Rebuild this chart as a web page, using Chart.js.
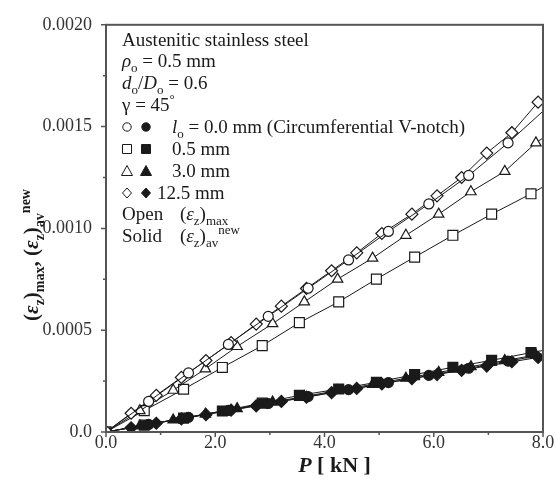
<!DOCTYPE html>
<html>
<head>
<meta charset="utf-8">
<script src="https://cdn.jsdelivr.net/npm/chart.js@4"></script>
<style>
  html, body { margin: 0; padding: 0; background: #fff; }
  #wrap { width: 555px; height: 479px; }
</style>
</head>
<body>
<div id="wrap"><canvas id="chart" width="555" height="479"></canvas></div>
<script>
// loads P [kN] and strains
const pCircle = [0, 0.78, 1.51, 2.24, 2.97, 3.70, 4.44, 5.17, 5.91, 6.64, 7.36, 8.10];
const openCircle = [0, 0.000150, 0.000290, 0.000430, 0.000568, 0.000706, 0.000845, 0.000985, 0.00112, 0.00126, 0.00142, 0.00160];
const solidCircle = [0, 0.000037, 0.000072, 0.000106, 0.000140, 0.000174, 0.000208, 0.000243, 0.000278, 0.000313, 0.000348, 0.000384];

const pSquare = [0, 0.70, 1.42, 2.13, 2.86, 3.54, 4.26, 4.95, 5.65, 6.35, 7.06, 7.78, 8.49];
const openSquare = [0, 0.000105, 0.000210, 0.000317, 0.000424, 0.000537, 0.000639, 0.000751, 0.000859, 0.000966, 0.00107, 0.00117, 0.00128];
const solidSquare = [0, 0.000034, 0.000068, 0.000103, 0.000142, 0.000180, 0.000211, 0.000244, 0.000282, 0.000318, 0.000352, 0.000390, 0.000424];

const pTriangle = [0, 0.62, 1.23, 1.82, 2.40, 3.05, 3.63, 4.24, 4.88, 5.49, 6.09, 6.68, 7.30, 7.87, 8.46];
const openTriangle = [0, 0.000105, 0.000205, 0.000310, 0.000420, 0.000532, 0.000639, 0.000751, 0.000854, 0.000966, 0.00107, 0.00118, 0.00128, 0.00142, 0.00153];
const solidTriangle = [0, 0.000030, 0.000059, 0.000088, 0.000115, 0.000147, 0.000174, 0.000204, 0.000234, 0.000264, 0.000293, 0.000321, 0.000351, 0.000378, 0.000406];

const pDiamond = [0, 0.46, 0.92, 1.38, 1.83, 2.29, 2.75, 3.21, 3.67, 4.13, 4.59, 5.05, 5.60, 6.06, 6.51, 6.97, 7.43, 7.91, 8.37];
const openDiamond = [0, 0.000092, 0.000180, 0.000268, 0.000351, 0.000439, 0.000530, 0.000618, 0.000705, 0.000792, 0.000880, 0.000975, 0.00107, 0.00116, 0.00125, 0.00137, 0.00147, 0.00162, 0.00172];
const solidDiamond = [0, 0.000021, 0.000043, 0.000064, 0.000085, 0.000107, 0.000128, 0.000150, 0.000171, 0.000193, 0.000214, 0.000236, 0.000262, 0.000282, 0.000303, 0.000324, 0.000345, 0.000366, 0.000388];

const xTicks = [0, 2, 4, 6, 8];
const yTicks = [0, 0.0005, 0.0010, 0.0015, 0.0020];

const SERIF = "'Liberation Serif', 'Times New Roman', serif";
const INK = '#1a1a1a';

const pts = (xs, ys) => xs.map((x, i) => ({ x: x, y: ys[i] }));

function series(xs, ys, style, filled, r) {
  return {
    data: pts(xs, ys),
    showLine: true,
    borderColor: INK,
    borderWidth: 1,
    pointStyle: style,
    pointRadius: r,
    pointBorderWidth: 1.2,
    pointBorderColor: INK,
    pointBackgroundColor: filled ? INK : '#fff',
    tension: 0
  };
}

// draws a run of text pieces (italic / sub / sup) and returns its width
function rich(ctx, parts, x, y, size, bold, measureOnly) {
  let cx = x;
  parts.forEach(p => {
    const small = p.sub || p.sup;
    const sz = small ? Math.round(size * 0.66) : size;
    ctx.font = (p.i ? 'italic ' : '') + (bold ? 'bold ' : '') + sz + 'px ' + SERIF;
    const dy = p.sub ? size * 0.27 : p.sup ? -size * 0.4 : 0;
    if (!measureOnly) ctx.fillText(p.t, cx, y + dy);
    cx += ctx.measureText(p.t).width;
  });
  return cx - x;
}

function symbol(ctx, kind, x, y, filled) {
  ctx.save();
  ctx.beginPath();
  if (kind === 'circle') ctx.arc(x, y, 4.2, 0, Math.PI * 2);
  if (kind === 'rect') ctx.rect(x - 4.5, y - 4.5, 9, 9);
  if (kind === 'triangle') { ctx.moveTo(x, y - 5.5); ctx.lineTo(x + 5.5, y + 4.5); ctx.lineTo(x - 5.5, y + 4.5); ctx.closePath(); }
  if (kind === 'rectRot') { ctx.moveTo(x, y - 5); ctx.lineTo(x + 4.5, y); ctx.lineTo(x, y + 5); ctx.lineTo(x - 4.5, y); ctx.closePath(); }
  ctx.lineWidth = 1;
  ctx.strokeStyle = INK;
  ctx.fillStyle = filled ? INK : '#fff';
  ctx.fill();
  ctx.stroke();
  ctx.restore();
}

const decor = {
  id: 'decor',
  afterDraw(chart) {
    const ctx = chart.ctx;
    const a = chart.chartArea;
    const xs = chart.scales.x, ys = chart.scales.y;
    ctx.save();

    // frame
    ctx.strokeStyle = '#555';
    ctx.lineWidth = 2;
    ctx.strokeRect(a.left, a.top, a.right - a.left, a.bottom - a.top);

    // outward ticks, major and minor
    ctx.lineWidth = 1.5;
    ctx.beginPath();
    for (let v = 0; v <= 8.0001; v += 1) {
      const px = xs.getPixelForValue(v);
      const len = (Math.round(v) % 2 === 0) ? 5 : 3;
      ctx.moveTo(px, a.bottom); ctx.lineTo(px, a.bottom + len);
    }
    for (let k = 0; k <= 8; k++) {
      const py = ys.getPixelForValue(k * 0.00025);
      const len = (k % 2 === 0) ? 5 : 3;
      ctx.moveTo(a.left, py); ctx.lineTo(a.left - len, py);
    }
    ctx.stroke();

    ctx.fillStyle = INK;
    ctx.textBaseline = 'alphabetic';
    ctx.textAlign = 'left';

    // notes inside the plot
    const F = 19;
    const L = 122, lines = [46, 67, 89, 111, 133, 155, 177, 199, 220, 242];
    rich(ctx, [{ t: 'Austenitic stainless steel' }], L, lines[0], F);
    rich(ctx, [{ t: 'ρ', i: 1 }, { t: 'o', sub: 1 }, { t: ' = 0.5 mm' }], L, lines[1], F);
    rich(ctx, [{ t: 'd', i: 1 }, { t: 'o', sub: 1 }, { t: '/' }, { t: 'D', i: 1 }, { t: 'o', sub: 1 }, { t: ' = 0.6' }], L, lines[2], F);
    rich(ctx, [{ t: 'γ = 45' }, { t: '°', sup: 1 }], L, lines[3], F);

    const kinds = ['circle', 'rect', 'triangle', 'rectRot'];
    kinds.forEach((k, i) => {
      symbol(ctx, k, 127, lines[4 + i] - 6, false);
      symbol(ctx, k, 146, lines[4 + i] - 6, true);
    });
    rich(ctx, [{ t: 'l', i: 1 }, { t: 'o', sub: 1 }, { t: ' = 0.0 mm (Circumferential V-notch)' }], 172, lines[4], F);
    rich(ctx, [{ t: '0.5 mm' }], 172, lines[5], F);
    rich(ctx, [{ t: '3.0 mm' }], 172, lines[6], F);
    rich(ctx, [{ t: '12.5 mm' }], 157, lines[7], F);
    rich(ctx, [{ t: 'Open' }], L, lines[8], F);
    rich(ctx, [{ t: '(' }, { t: 'ε', i: 1 }, { t: 'z', sub: 1 }, { t: ')' }, { t: 'max', sub: 1 }], 180, lines[8], F);
    rich(ctx, [{ t: 'Solid' }], L, lines[9], F);
    rich(ctx, [{ t: '(' }, { t: 'ε', i: 1 }, { t: 'z', sub: 1 }, { t: ')' }, { t: 'av', sub: 1 }, { t: 'new', sup: 1 }], 180, lines[9], F);

    // x axis title
    const xt = [{ t: 'P', i: 1 }, { t: ' [ kN ]' }];
    const xw = rich(ctx, xt, 0, 0, 22, true, true);
    rich(ctx, xt, (a.left + a.right) / 2 - xw / 2 + 10, 472, 22, true);

    // y axis title, rotated
    const yt = [{ t: '(' }, { t: 'ε', i: 1 }, { t: 'z', sub: 1 }, { t: ')' }, { t: 'max', sub: 1 }, { t: ', (' },
                { t: 'ε', i: 1 }, { t: 'z', sub: 1 }, { t: ')' }, { t: 'av', sub: 1 }, { t: 'new', sup: 1 }];
    const yw = rich(ctx, yt, 0, 0, 21, true, true);
    ctx.translate(38, 255);
    ctx.rotate(-Math.PI / 2);
    rich(ctx, yt, -yw / 2, 0, 21, true);
    ctx.restore();
  }
};

new Chart(document.getElementById('chart'), {
  type: 'scatter',
  data: {
    datasets: [
      series(pCircle, openCircle, 'circle', false, 5),
      series(pDiamond, openDiamond, 'rectRot', false, 6),
      series(pTriangle, openTriangle, 'triangle', false, 6),
      series(pSquare, openSquare, 'rect', false, 7),
      series(pCircle, solidCircle, 'circle', true, 5),
      series(pSquare, solidSquare, 'rect', true, 7),
      series(pTriangle, solidTriangle, 'triangle', true, 6),
      series(pDiamond, solidDiamond, 'rectRot', true, 6)
    ]
  },
  options: {
    responsive: false,
    animation: false,
    layout: { padding: { left: 0, top: 22, right: 12, bottom: 0 } },
    plugins: { legend: { display: false }, tooltip: { enabled: false } },
    scales: {
      x: {
        type: 'linear',
        min: 0, max: 8,
        afterFit: s => { s.height = 47; },
        afterBuildTicks: s => { s.ticks = xTicks.map(v => ({ value: v })); },
        ticks: {
          padding: 0,
          color: '#333',
          font: { family: SERIF, size: 18 },
          callback: v => v.toFixed(1)
        },
        grid: { drawOnChartArea: false, drawTicks: false, tickLength: 0 },
        border: { display: false }
      },
      y: {
        type: 'linear',
        min: 0, max: 0.002,
        afterFit: s => { s.width = 106; },
        afterBuildTicks: s => { s.ticks = yTicks.map(v => ({ value: v })); },
        ticks: {
          padding: 14,
          color: '#333',
          font: { family: SERIF, size: 18 },
          callback: v => v === 0 ? '0.0' : v.toFixed(4)
        },
        grid: { drawOnChartArea: false, drawTicks: false, tickLength: 0 },
        border: { display: false }
      }
    }
  },
  plugins: [decor]
});
</script>
</body>
</html>
